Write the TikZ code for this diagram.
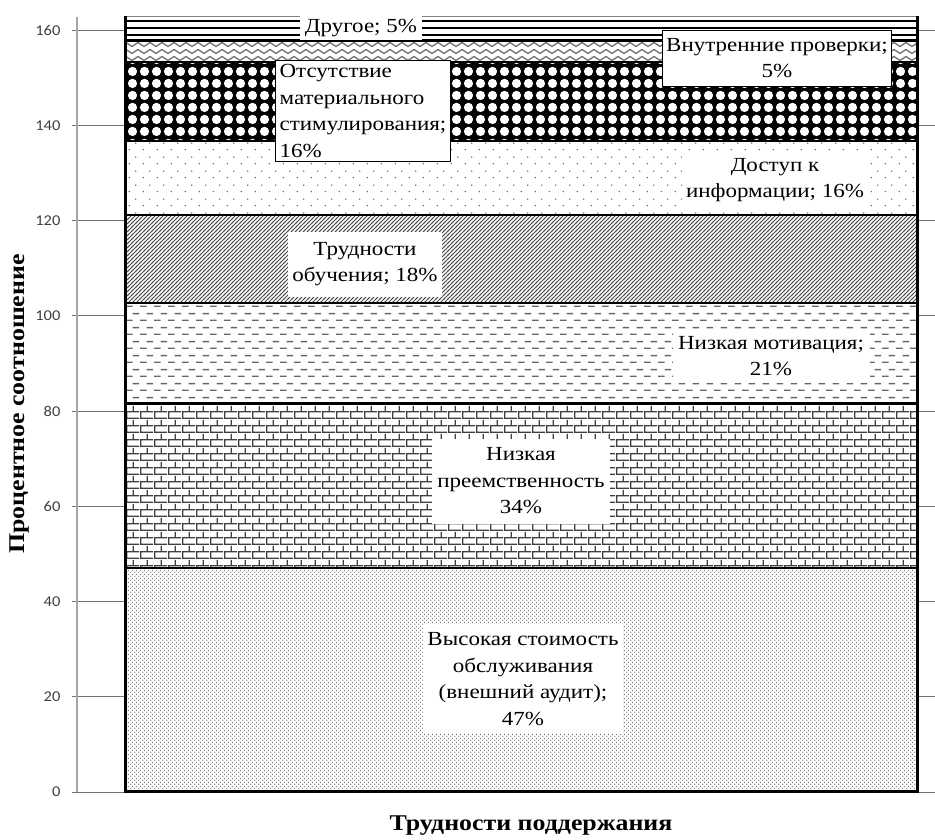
\documentclass[tikz,border=0pt]{standalone}
\usepackage{fontspec}
\setmainfont{Liberation Serif}[FakeStretch=1.15]
\newfontfamily\tickfont{Carlito}[FakeStretch=1.1]
\usetikzlibrary{patterns}

\pgfdeclarepatternformonly{zigzag}{\pgfqpoint{-1pt}{-1pt}}{\pgfqpoint{13pt}{8pt}}{\pgfqpoint{12pt}{7pt}}{
  \pgfsetlinewidth{1.3pt}
  \pgfpathmoveto{\pgfqpoint{0pt}{1.5pt}}
  \pgfpathlineto{\pgfqpoint{6pt}{5.5pt}}
  \pgfpathlineto{\pgfqpoint{12pt}{1.5pt}}
  \pgfusepath{stroke}}
\pgfdeclarepatternformonly{whitedots}{\pgfpointorigin}{\pgfqpoint{11.5pt}{11.5pt}}{\pgfqpoint{11.5pt}{11.5pt}}{
  \pgfpathcircle{\pgfqpoint{5.75pt}{5.75pt}}{4.8pt}
  \pgfusepath{fill}}
\pgfdeclarepatternformonly{sparsedots}{\pgfpointorigin}{\pgfqpoint{14pt}{14pt}}{\pgfqpoint{14pt}{14pt}}{
  \pgfpathcircle{\pgfqpoint{3.5pt}{3.5pt}}{0.8pt}
  \pgfpathcircle{\pgfqpoint{10.5pt}{10.5pt}}{0.8pt}
  \pgfusepath{fill}}
\pgfdeclarepatternformonly{densehatch}{\pgfqpoint{-1pt}{-1pt}}{\pgfqpoint{5pt}{5pt}}{\pgfqpoint{4pt}{4pt}}{
  \pgfsetlinewidth{0.9pt}
  \pgfpathmoveto{\pgfqpoint{-1pt}{-1pt}}
  \pgfpathlineto{\pgfqpoint{5pt}{5pt}}
  \pgfusepath{stroke}}
\pgfdeclarepatternformonly{dashrows}{\pgfpointorigin}{\pgfqpoint{14pt}{14pt}}{\pgfqpoint{14pt}{14pt}}{
  \pgfpathrectangle{\pgfqpoint{0pt}{0pt}}{\pgfqpoint{7pt}{1.5pt}}
  \pgfpathrectangle{\pgfqpoint{7pt}{7pt}}{\pgfqpoint{7pt}{1.5pt}}
  \pgfusepath{fill}}
\pgfdeclarepatternformonly{smallbricks}{\pgfpointorigin}{\pgfqpoint{14pt}{14pt}}{\pgfqpoint{14pt}{14pt}}{
  \pgfpathrectangle{\pgfqpoint{0pt}{0pt}}{\pgfqpoint{14pt}{1.4pt}}
  \pgfpathrectangle{\pgfqpoint{0pt}{7pt}}{\pgfqpoint{14pt}{1.4pt}}
  \pgfpathrectangle{\pgfqpoint{0pt}{0pt}}{\pgfqpoint{1.4pt}{7pt}}
  \pgfpathrectangle{\pgfqpoint{7pt}{7pt}}{\pgfqpoint{1.4pt}{7pt}}
  \pgfusepath{fill}}
\pgfdeclarepatternformonly{finestipple}{\pgfpointorigin}{\pgfqpoint{3.6pt}{3.6pt}}{\pgfqpoint{3.6pt}{3.6pt}}{
  \pgfpathcircle{\pgfqpoint{0.9pt}{0.9pt}}{0.75pt}
  \pgfpathcircle{\pgfqpoint{2.7pt}{2.7pt}}{0.75pt}
  \pgfusepath{fill}}

\begin{document}
\begin{tikzpicture}[x=1pt,y=-1pt,
    lbl/.style={fill=white,inner sep=2pt,align=center,font=\fontsize{20}{26.5}\selectfont},
    boxed/.style={lbl,draw,line width=0.9pt,inner sep=4pt},
    grid line/.style={draw=black!55,line width=0.9pt},
    sep line/.style={line width=2.2pt},
    tick/.style={anchor=east,text=black!75,font=\tickfont\fontsize{15}{15}\selectfont},
    axis title/.style={font=\fontsize{22.5}{26}\selectfont\bfseries}]

  \useasboundingbox (0,0) rectangle (935,839);

  \foreach \v [count=\i from 0] in {0,20,...,160} {
    \draw[grid line] (72,792-\i*95.25) -- (935,792-\i*95.25);
    \node[tick] (t\v) at (64,792-\i*95.25) {\v};
  }
  \draw[black!35,line width=1.5pt] (77,17) -- (77,792);

  \fill[white] (125,16) rectangle (918,792);
  \fill[pattern=zigzag,pattern color=black!55] (125,42) rectangle (918,62);
  \fill[black] (125,62) rectangle (918,141);
  \fill[pattern=whitedots,pattern color=white] (125,62) rectangle (918,141);
  \fill[pattern=sparsedots,pattern color=black!65] (125,141) rectangle (918,215);
  \fill[pattern=densehatch,pattern color=black!70] (125,215) rectangle (918,303);
  \fill[pattern=dashrows,pattern color=black!60] (125,303) rectangle (918,403);
  \fill[pattern=smallbricks,pattern color=black!75] (125,403) rectangle (918,568);
  \fill[pattern=finestipple,pattern color=black!55] (125,568) rectangle (918,792);

  \foreach \y in {21,28,34.5}
    \draw[line width=2pt] (125,\y) -- (918,\y);
  \draw[line width=3pt] (125,40.5) -- (918,40.5);
  \foreach \y in {62,141,215,303,568}
    \draw[sep line] (125,\y) -- (918,\y);
  \draw[line width=3pt] (125,403.5) -- (918,403.5);
  \draw[black!50,line width=1pt] (125,16.5) -- (918,16.5);
  \draw[line width=3pt] (125.5,16) -- (125.5,791.5) -- (917.5,791.5) -- (917.5,16);

  \node[lbl,minimum width=122pt,minimum height=24pt] (other) at (361,28) {Другое; 5\%};
  \node[boxed,minimum width=195pt,minimum height=56pt] (audit) at (777,58) {Внутренние проверки;\\5\%};
  \node[boxed,align=left] (reward) at (363,111) {Отсутствие\\материального\\стимулирования;\\16\%};
  \node[lbl,minimum width=186pt,minimum height=56pt] (access) at (775,180) {Доступ к\\информации; 16\%};
  \node[lbl,minimum width=154pt,minimum height=65pt] (training) at (365,264) {Трудности\\обучения; 18\%};
  \node[lbl,minimum width=197pt,minimum height=54pt] (motive) at (771,356) {Низкая мотивация;\\21\%};
  \node[lbl,minimum width=178pt,minimum height=85pt] (succession) at (521,481) {Низкая\\преемственность\\34\%};
  \node[lbl,minimum width=200pt,minimum height=110pt] (cost) at (523,679) {Высокая стоимость\\обслуживания\\(внешний аудит);\\47\%};

  \node[axis title,rotate=90] (ytitle) at (20,404) {Процентное соотношение};
  \node[axis title] (xtitle) at (531,826) {Трудности поддержания};

\end{tikzpicture}
\end{document}
